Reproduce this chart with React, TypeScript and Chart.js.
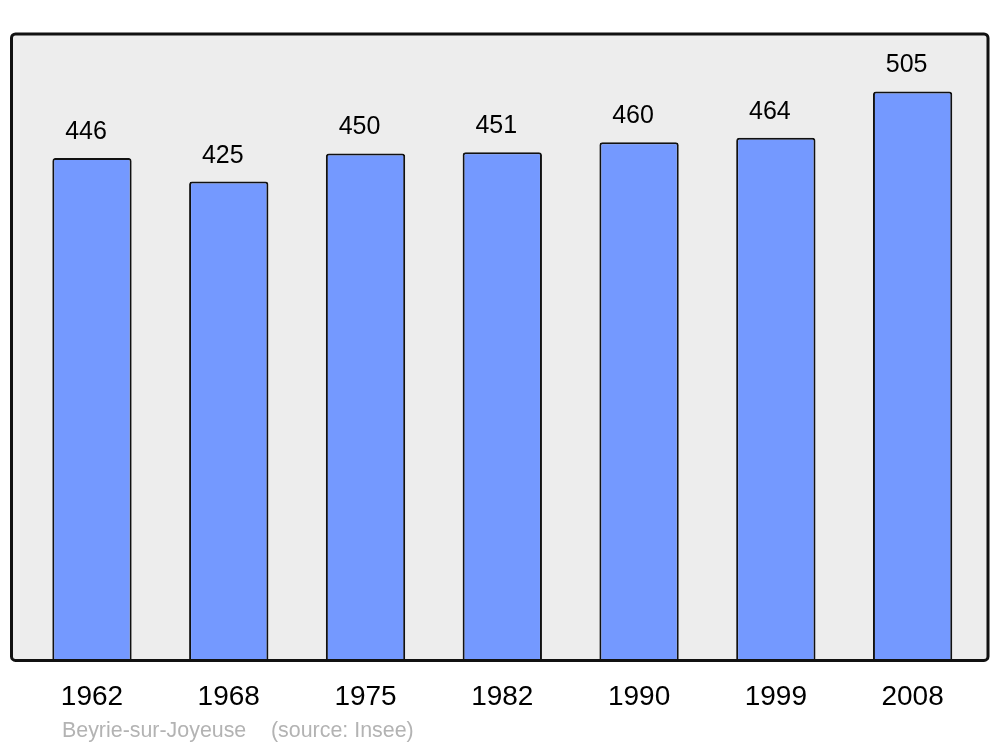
import React, { useEffect, useRef } from "react";
import { Chart, registerables } from "chart.js";

Chart.register(...registerables);

const years = ["1962", "1968", "1975", "1982", "1990", "1999", "2008"];
const population = [446, 425, 450, 451, 460, 464, 505];
const sourceName = "Beyrie-sur-Joyeuse";
const sourceNote = "(source: Insee)";

const FONT = "'Liberation Sans', Arial, sans-serif";

const framePlugin = {
  id: "frame",
  beforeDatasetsDraw(chart: any) {
    const { ctx, chartArea } = chart;
    ctx.save();
    ctx.fillStyle = "#ededed";
    ctx.beginPath();
    ctx.roundRect(11.5, chartArea.top, 988 - 11.5, chartArea.bottom - chartArea.top, 4);
    ctx.fill();
    ctx.restore();
  },
  afterDatasetsDraw(chart: any) {
    const { ctx, chartArea } = chart;
    ctx.save();
    ctx.strokeStyle = "#111111";
    ctx.lineWidth = 3;
    ctx.beginPath();
    ctx.roundRect(11.5, chartArea.top, 988 - 11.5, chartArea.bottom - chartArea.top, 4);
    ctx.stroke();
    // value labels
    const meta = chart.getDatasetMeta(0);
    ctx.fillStyle = "#000000";
    ctx.font = `25px ${FONT}`;
    ctx.textAlign = "center";
    ctx.textBaseline = "alphabetic";
    meta.data.forEach((bar: any, i: number) => {
      ctx.fillText(String(population[i]), bar.x - 6, bar.y - 19);
    });
    // source
    ctx.fillStyle = "#b3b3b3";
    ctx.font = `21.4px ${FONT}`;
    ctx.textAlign = "left";
    ctx.fillText(sourceName, 62, 737);
    ctx.fillText(sourceNote, 271, 737);
    ctx.restore();
  },
};

export default function App() {
  const ref = useRef<HTMLCanvasElement | null>(null);
  useEffect(() => {
    if (!ref.current) return;
    const chart = new Chart(ref.current, {
      type: "bar",
      data: {
        labels: years,
        datasets: [
          {
            data: population,
            backgroundColor: "#7499ff",
            borderColor: "#111111",
            borderWidth: 2,
            borderRadius: 3,
            borderSkipped: "start",
            barPercentage: 0.58,
            categoryPercentage: 1,
          },
        ],
      },
      options: {
        animation: false,
        responsive: false,
        devicePixelRatio: 1,
        layout: { padding: { left: 23.6, right: 19, top: 34, bottom: 13 } },
        plugins: { legend: { display: false }, tooltip: { enabled: false } },
        scales: {
          x: {
            grid: { display: false, drawTicks: false },
            border: { display: false },
            ticks: { color: "#000000", font: { family: FONT, size: 28 }, padding: 20 },
          },
          y: { display: false, min: 0, max: 556 },
        },
      },
      plugins: [framePlugin],
    });
    return () => chart.destroy();
  }, []);
  return (
    <div style={{ position: "absolute", left: 0, top: 0, width: 1000, height: 747 }}>
      <canvas ref={ref} width={1000} height={747} style={{ width: 1000, height: 747 }} />
    </div>
  );
}
